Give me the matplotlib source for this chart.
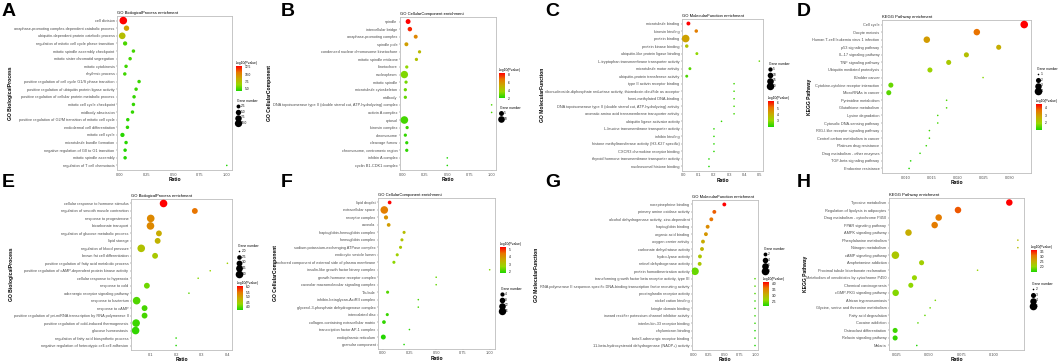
import numpy as np
import matplotlib
matplotlib.use('Agg')
from matplotlib import pyplot as plt
from matplotlib.colors import LinearSegmentedColormap, Normalize
from matplotlib.cm import ScalarMappable

plt.rcParams['font.family'] = ['Liberation Sans', 'DejaVu Sans']

# ---- panel A : GO BP (set 1)
a_terms = ['cell division', 'anaphase-promoting complex-dependent catabolic process',
           'ubiquitin-dependent protein catabolic process', 'regulation of mitotic cell cycle phase transition',
           'mitotic spindle assembly checkpoint', 'mitotic sister chromatid segregation', 'mitotic cytokinesis',
           'rhythmic process', 'positive regulation of cell cycle G1/S phase transition',
           'positive regulation of ubiquitin protein ligase activity',
           'positive regulation of cellular protein metabolic process', 'mitotic cell cycle checkpoint',
           'midbody abscission', 'positive regulation of G2/M transition of mitotic cell cycle',
           'endodermal cell differentiation', 'mitotic cell cycle', 'microtubule bundle formation',
           'negative regulation of G0 to G1 transition', 'mitotic spindle assembly',
           'regulation of T cell chemotaxis']
a_ratio = [0.03, 0.06, 0.02, 0.047, 0.125, 0.094, 0.056, 0.044, 0.178, 0.15,
           0.131, 0.125, 0.116, 0.072, 0.069, 0.022, 0.056, 0.047, 0.047, 1.0]
a_logp = [12.8, 8.9, 7.6, 5.0, 4.9, 4.9, 4.8, 4.8, 4.7, 4.7,
          4.6, 4.6, 4.6, 4.5, 4.5, 4.4, 4.4, 4.3, 4.3, 4.2]
a_count = [11, 5, 8, 3, 2, 2, 2, 2, 2, 2, 2, 2, 2, 2, 2, 3, 2, 2, 2, 1]

# ---- panel B : GO CC (set 1)
b_terms = ['spindle', 'intercellular bridge', 'anaphase-promoting complex', 'spindle pole',
           'condensed nuclear chromosome kinetochore', 'mitotic spindle midzone', 'kinetochore',
           'nucleoplasm', 'mitotic spindle', 'microtubule cytoskeleton', 'midbody',
           'DNA topoisomerase type II (double strand cut, ATP-hydrolyzing) complex', 'activin A complex',
           'cytosol', 'kinesin complex', 'chromosome', 'cleavage furrow', 'chromosome, centromeric region',
           'inhibin A complex', 'cyclin B1-CDK1 complex']
b_ratio = [0.058, 0.078, 0.144, 0.039, 0.187, 0.152, 0.043, 0.016, 0.035, 0.027,
           0.027, 1.0, 1.0, 0.016, 0.047, 0.027, 0.043, 0.043, 0.5, 0.5]
b_logp = [8.4, 7.9, 6.3, 5.6, 4.7, 4.4, 3.5, 3.3, 3.1, 3.0,
          2.9, 2.6, 2.6, 2.5, 2.4, 2.3, 2.2, 2.2, 2.0, 2.0]
b_count = [5, 4, 3, 3, 2, 2, 2, 13, 2, 2, 2, 1, 1, 14, 2, 2, 2, 2, 1, 1]

# ---- panel C : GO MF (set 1)
c_terms = ['microtubule binding', 'kinesin binding', 'protein binding', 'protein kinase binding',
           'ubiquitin-like protein ligase binding', 'L-tryptophan transmembrane transporter activity',
           'microtubule motor activity', 'ubiquitin-protein transferase activity',
           'type II activin receptor binding',
           'ribonucleoside-diphosphate reductase activity, thioredoxin disulfide as acceptor',
           'hemi-methylated DNA-binding', 'DNA topoisomerase type II (double strand cut, ATP-hydrolyzing) activity',
           'aromatic amino acid transmembrane transporter activity', 'ubiquitin ligase activator activity',
           'L-leucine transmembrane transporter activity', 'inhibin binding',
           'histone methyltransferase activity (H3-K27 specific)', 'CXCR3 chemokine receptor binding',
           'thyroid hormone transmembrane transporter activity', 'nucleosomal histone binding']
c_ratio = [0.031, 0.083, 0.013, 0.02, 0.087, 0.5, 0.041, 0.02, 0.333, 0.333,
           0.333, 0.333, 0.333, 0.25, 0.2, 0.2, 0.2, 0.2, 0.167, 0.167]
c_logp = [6.2, 5.0, 4.3, 3.6, 3.0, 2.6, 2.5, 2.4, 2.3, 2.3,
          2.3, 2.3, 2.3, 2.2, 2.1, 2.1, 2.1, 2.1, 2.0, 2.0]
c_count = [4, 3, 21, 3, 2, 1, 2, 2, 1, 1, 1, 1, 1, 1, 1, 1, 1, 1, 1, 1]

# ---- panel D : KEGG (set 1)
d_terms = ['Cell cycle', 'Oocyte meiosis', 'Human T-cell leukemia virus 1 infection', 'p53 signaling pathway',
           'IL-17 signaling pathway', 'TNF signaling pathway', 'Ubiquitin mediated proteolysis',
           'Bladder cancer', 'Cytokine-cytokine receptor interaction', 'MicroRNAs in cancer',
           'Pyrimidine metabolism', 'Glutathione metabolism', 'Lysine degradation',
           'Cytosolic DNA-sensing pathway', 'RIG-I-like receptor signaling pathway',
           'Central carbon metabolism in cancer', 'Platinum drug resistance',
           'Drug metabolism - other enzymes', 'TGF-beta signaling pathway', 'Endocrine resistance']
d_ratio = [0.0327, 0.0236, 0.014, 0.0278, 0.0216, 0.0182, 0.0146, 0.0248, 0.0071, 0.0067,
           0.0178, 0.0178, 0.0161, 0.0161, 0.0145, 0.0145, 0.0139, 0.0127, 0.0109, 0.0106]
d_logp = [4.4, 3.6, 3.0, 2.7, 2.4, 2.2, 2.0, 1.8, 1.6, 1.5,
          1.4, 1.4, 1.35, 1.35, 1.3, 1.3, 1.25, 1.2, 1.15, 1.1]
d_count = [4, 3, 3, 2, 2, 2, 2, 1, 2, 2, 1, 1, 1, 1, 1, 1, 1, 1, 1, 1]

# ---- panel E : GO BP (set 2)
e_terms = ['cellular response to hormone stimulus', 'regulation of smooth muscle contraction',
           'response to progesterone', 'bicarbonate transport', 'regulation of glucose metabolic process',
           'lipid storage', 'regulation of blood pressure', 'brown fat cell differentiation',
           'positive regulation of fatty acid metabolic process',
           'positive regulation of cAMP-dependent protein kinase activity', 'cellular response to hyperoxia',
           'response to cold', 'adrenergic receptor signaling pathway', 'response to bacterium',
           'response to cAMP', 'positive regulation of pri-miRNA transcription by RNA polymerase II',
           'positive regulation of cold-induced thermogenesis', 'glucose homeostasis',
           'regulation of fatty acid biosynthetic process', 'negative regulation of heterotypic cell-cell adhesion']
e_ratio = [0.151, 0.273, 0.101, 0.1, 0.133, 0.128, 0.064, 0.118, 0.4, 0.333,
           0.286, 0.086, 0.25, 0.046, 0.077, 0.077, 0.044, 0.042, 0.2, 0.2]
e_logp = [6.1, 5.5, 5.3, 5.3, 4.9, 4.8, 4.6, 4.5, 4.4, 4.3,
          4.2, 4.1, 4.0, 3.95, 3.9, 3.9, 3.85, 3.8, 3.75, 3.7]
e_count = [4, 3, 4, 4, 3, 3, 4, 3, 2, 2, 2, 3, 2, 4, 3, 3, 4, 4, 2, 2]

# ---- panel F : GO CC (set 2)
f_terms = ['lipid droplet', 'extracellular space', 'receptor complex', 'caveola',
           'haptoglobin-hemoglobin complex', 'hemoglobin complex', 'sodium:potassium-exchanging ATPase complex',
           'endocytic vesicle lumen', 'anchored component of external side of plasma membrane',
           'insulin-like growth factor binary complex', 'growth hormone receptor complex',
           'caveolar macromolecular signaling complex', 'T-tubule', 'inhibin-betaglycan-ActRII complex',
           'glycerol-3-phosphate dehydrogenase complex', 'intercalated disc',
           'collagen-containing extracellular matrix', 'transcription factor AP-1 complex',
           'endoplasmic reticulum', 'granular component']
f_ratio = [0.065, 0.015, 0.031, 0.056, 0.2, 0.18, 0.167, 0.136, 0.105, 1.0,
           0.5, 0.5, 0.046, 0.333, 0.333, 0.043, 0.012, 0.25, 0.006, 0.2]
f_logp = [5.3, 4.3, 4.0, 3.8, 3.2, 3.1, 3.0, 2.8, 2.6, 2.5,
          2.3, 2.3, 2.2, 2.1, 2.1, 2.0, 1.95, 1.9, 1.85, 1.8]
f_count = [3, 17, 4, 3, 2, 2, 2, 2, 2, 1, 1, 1, 2, 1, 1, 2, 3, 1, 6, 1]

# ---- panel G : GO MF (set 2)
g_terms = ['norepinephrine binding', 'primary amine oxidase activity',
           'alcohol dehydrogenase activity, zinc-dependent', 'haptoglobin binding', 'organic acid binding',
           'oxygen carrier activity', 'carbonate dehydratase activity', 'hydro-lyase activity',
           'retinal dehydrogenase activity', 'protein homodimerization activity',
           'transforming growth factor beta receptor activity, type III',
           'RNA polymerase II sequence-specific DNA-binding transcription factor recruiting activity',
           'prostaglandin receptor activity', 'nickel cation binding', 'kringle domain binding',
           'inward rectifier potassium channel inhibitor activity', 'interleukin-33 receptor binding',
           'chylomicron binding', 'beta3-adrenergic receptor binding',
           '11-beta-hydroxysteroid dehydrogenase (NADP+) activity']
g_ratio = [0.5, 0.337, 0.288, 0.228, 0.2, 0.152, 0.136, 0.103, 0.098, 0.022,
           1.0, 1.0, 1.0, 1.0, 1.0, 1.0, 1.0, 1.0, 1.0, 1.0]
g_logp = [4.1, 3.7, 3.6, 3.4, 3.3, 3.1, 3.0, 2.8, 2.8, 2.4,
          2.3, 2.3, 2.3, 2.2, 2.2, 2.2, 2.2, 2.1, 2.1, 2.1]
g_count = [2, 2, 2, 2, 2, 2, 2, 2, 2, 8, 1, 1, 1, 1, 1, 1, 1, 1, 1, 1]

# ---- panel H : KEGG (set 2)
h_terms = ['Tyrosine metabolism', 'Regulation of lipolysis in adipocytes', 'Drug metabolism - cytochrome P450',
           'PPAR signaling pathway', 'AMPK signaling pathway', 'Phenylalanine metabolism', 'Nitrogen metabolism',
           'cAMP signaling pathway', 'Amphetamine addiction', 'Proximal tubule bicarbonate reclamation',
           'Metabolism of xenobiotics by cytochrome P450', 'Chemical carcinogenesis',
           'cGMP-PKG signaling pathway', 'African trypanosomiasis', 'Glycine, serine and threonine metabolism',
           'Fatty acid degradation', 'Cocaine addiction', 'Osteoclast differentiation',
           'Relaxin signaling pathway', 'Malaria']
h_ratio = [0.1121, 0.0725, 0.0576, 0.0545, 0.0343, 0.1187, 0.1187, 0.0242, 0.0444, 0.0876,
           0.0389, 0.0361, 0.0244, 0.055, 0.051, 0.047, 0.0416, 0.024, 0.024, 0.0407]
h_logp = [3.6, 3.2, 3.0, 3.0, 2.5, 2.3, 2.3, 2.2, 2.1, 2.0,
          2.0, 1.95, 1.9, 1.85, 1.8, 1.75, 1.7, 1.6, 1.55, 1.45]
h_count = [4, 4, 4, 4, 4, 2, 2, 5, 3, 2, 3, 3, 4, 2, 2, 2, 2, 3, 3, 2]

W, H = 1059, 363
fig = plt.figure(figsize=(W / 100, H / 100), dpi=100)
cmap = LinearSegmentedColormap.from_list('gr', ['#1ED600', '#98D700', '#C8AB00', '#E87600', '#FF0000'])
FS = 2.75   # tick label size


def px_box(x0, y0, x1, y1):
    return [x0 / W, 1 - y1 / H, (x1 - x0) / W, (y1 - y0) / H]


def dot_size(g, gmin, gmax):
    # ggplot-like area scaling, diameter in px -> marker area in pt^2
    t = (np.asarray(g, float) - gmin) / max(gmax - gmin, 1e-9)
    d = 1.6 + (7.6 - 1.6) * np.sqrt(t)
    return (d * 0.72) ** 2


def panel(letter, letter_xy, box, title, ylab, ylab_x, terms, ratio, logp, count,
          xticks, xfmt, cticks, gticks, cbar_box, glegend_xy):
    ax = fig.add_axes(px_box(*box))
    n = len(terms)
    y = np.arange(n)[::-1]
    norm = Normalize(vmin=min(logp), vmax=max(logp))
    gmin, gmax = min(count), max(count)
    ax.scatter(ratio, y, s=dot_size(count, gmin, gmax), c=logp, cmap=cmap, norm=norm,
               linewidths=0, zorder=3)
    r = max(ratio) - min(ratio)
    ax.set_xlim(min(ratio) - 0.05 * r, max(ratio) + 0.05 * r)
    ax.set_ylim(-0.6, n - 0.4)
    ax.set_yticks(y)
    ax.set_yticklabels(terms, fontsize=FS, color='#4d4d4d')
    ax.set_xticks(xticks)
    ax.set_xticklabels([xfmt % v for v in xticks], fontsize=FS, color='#4d4d4d')
    ax.tick_params(length=1.0, width=0.3, color='#555555', pad=0.8)
    for s in ax.spines.values():
        s.set_color('#bdbdbd')
        s.set_linewidth(0.6)
    ax.set_title(title, loc='left', fontsize=3.0, pad=1.5)
    ax.set_xlabel('Ratio', fontsize=3.6, fontweight='bold', labelpad=0.2)
    yc = 1 - (box[1] + box[3]) / 2 / H
    fig.text(ylab_x / W, yc, ylab, rotation=90, fontsize=3.6, fontweight='bold', ha='center', va='center')
    fig.text(letter_xy[0] / W, 1 - letter_xy[1] / H, letter, fontsize=14, fontweight='bold', va='top')

    # colour bar
    cax = fig.add_axes(px_box(*cbar_box))
    cb = fig.colorbar(ScalarMappable(norm=norm, cmap=cmap), cax=cax, ticks=cticks)
    cb.outline.set_visible(False)
    cb.ax.tick_params(labelsize=2.3, length=1.0, width=0.3, color='white', pad=1)
    cb.ax.set_yticklabels([str(v) for v in cticks])
    cax.text(0, 1.05, '-log10(Pvalue)', transform=cax.transAxes, fontsize=2.4, va='bottom', ha='left')

    # gene number legend
    handles = [ax.scatter([], [], s=dot_size(g, gmin, gmax), color='black', linewidths=0) for g in gticks]
    ax.legend(handles, [str(g) for g in gticks], title='Gene number', loc='upper left',
              bbox_to_anchor=(glegend_xy[0] / W, 1 - glegend_xy[1] / H), bbox_transform=fig.transFigure,
              frameon=False, fontsize=2.3, title_fontsize=2.4, handletextpad=0.3, labelspacing=0.5,
              borderpad=0, handlelength=1.0, alignment='left')
    return ax


panel('A', (2, 3), (117, 16, 232, 170), 'GO BiologicalProcess enrichment', 'GO BiologicalProcess', 11,
      a_terms, a_ratio, a_logp, a_count, [0, 0.25, 0.5, 0.75, 1.0], '%.2f',
      [5.0, 7.5, 10.0, 12.5], ['2.5', '5.0', '7.5', '10.0'], (236, 66, 242, 91), (235, 97))
panel('B', (281, 3), (400, 17, 496, 170), 'GO CellularComponent enrichment', 'GO CellularComponent', 270,
      b_terms, b_ratio, b_logp, b_count, [0, 0.25, 0.5, 0.75, 1.0], '%.2f',
      [2, 4, 6, 8], [5, 10], (499, 73, 505, 98), (498, 104))
panel('C', (545, 3), (682, 19, 763, 171), 'GO MolecularFunction enrichment', 'GO MolecularFunction', 542,
      c_terms, c_ratio, c_logp, c_count, [0, 0.1, 0.2, 0.3, 0.4, 0.5], '%.1f',
      [3, 4, 5, 6], [5, 10, 15, 20], (768, 101, 774, 127), (767, 60))
panel('D', (797, 3), (882, 20, 1031, 173), 'KEGG Pathway enrichment', 'KEGG Pathway', 810,
      d_terms, d_ratio, d_logp, d_count, [0.010, 0.015, 0.020, 0.025, 0.030], '%.3f',
      [1, 2, 3, 4], [1, 2, 3, 4], (1036, 104, 1042, 130), (1035, 65))
panel('E', (2, 174), (131, 199, 232, 350), 'GO BiologicalProcess enrichment', 'GO BiologicalProcess', 12,
      e_terms, e_ratio, e_logp, e_count, [0.1, 0.2, 0.3, 0.4], '%.1f',
      [4.0, 4.5, 5.0, 5.5, 6.0], ['2.0', '2.5', '3.0', '3.5', '4.0'], (237, 286, 243, 310), (236, 242))
panel('F', (281, 174), (378, 198, 495, 349), 'GO CellularComponent enrichment', 'GO CellularComponent', 275,
      f_terms, f_ratio, f_logp, f_count, [0, 0.25, 0.5, 0.75, 1.0], '%.2f',
      [2, 3, 4, 5], [4, 8, 12, 16], (500, 247, 506, 273), (499, 285))
panel('G', (545, 174), (692, 200, 758, 350), 'GO MolecularFunction enrichment', 'GO MolecularFunction', 537,
      g_terms, g_ratio, g_logp, g_count, [0, 0.25, 0.5, 0.75, 1.0], '%.2f',
      [2.5, 3.0, 3.5, 4.0], [2, 4, 6, 8], (763, 282, 769, 306), (762, 245))
panel('H', (797, 174), (889, 198, 1024, 350), 'KEGG Pathway enrichment', 'KEGG Pathway', 805,
      h_terms, h_ratio, h_logp, h_count, [0.025, 0.050, 0.075, 0.100], '%.3f',
      [2.0, 2.5, 3.0, 3.5], [2, 3, 4, 5], (1031, 250, 1037, 272), (1030, 280))

fig.savefig('out.png', dpi=100)
